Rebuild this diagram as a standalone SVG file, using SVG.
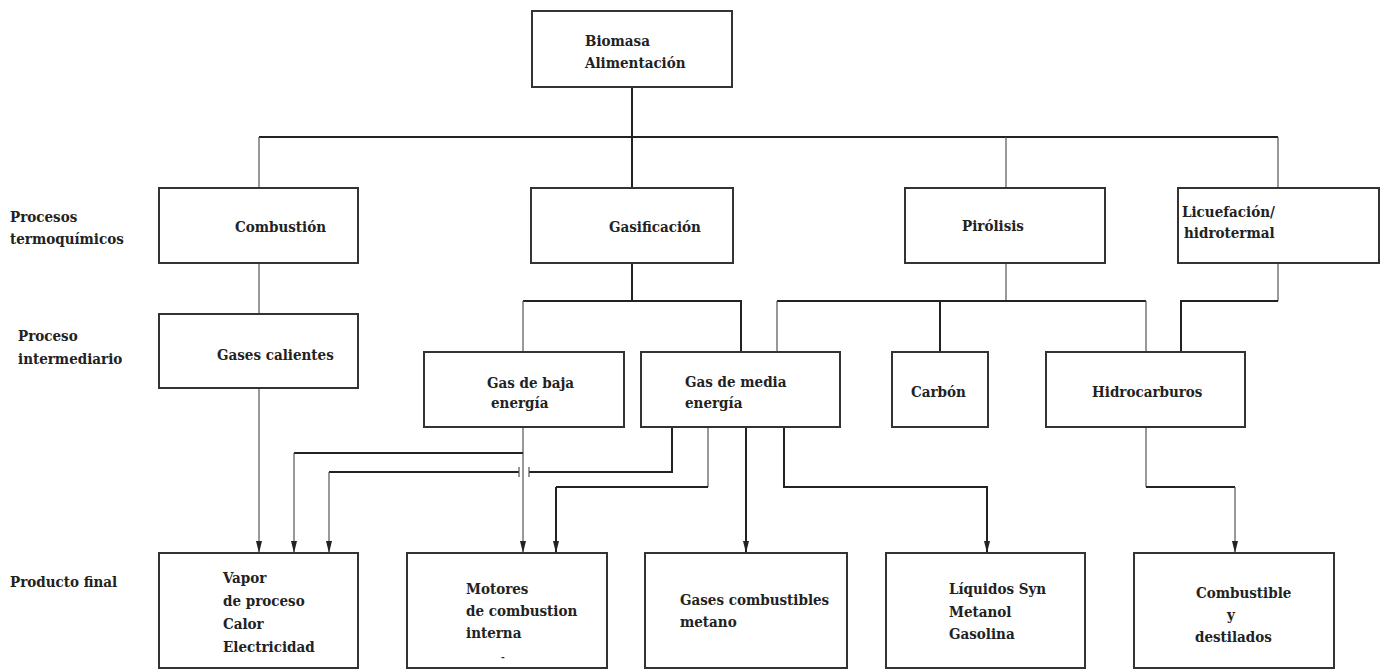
<svg xmlns="http://www.w3.org/2000/svg" width="1386" height="671" viewBox="0 0 1386 671">
<style>
.box{fill:#fff;stroke:#333;stroke-width:2}
.t{font-family:'DejaVu Serif Condensed','DejaVu Serif','Liberation Serif',serif;font-weight:bold;font-size:15px;fill:#222}
.thin{fill:none;stroke:#555;stroke-width:1.2}
.thick{fill:none;stroke:#222;stroke-width:2}
</style>
<defs>
<marker id="ah" markerWidth="12" markerHeight="6" refX="12" refY="3" orient="auto" markerUnits="userSpaceOnUse" viewBox="0 0 12 6">
<path d="M0,0 L12,3 L0,6 Z" fill="#222"/>
</marker>
</defs>
<rect width="1386" height="671" fill="#fff"/>
<g id="labels">
<text class="t" x="10" y="222">Procesos</text>
<text class="t" x="10" y="244">termoquímicos</text>
<text class="t" x="18" y="341">Proceso</text>
<text class="t" x="18" y="364">intermediario</text>
<text class="t" x="10" y="587">Producto final</text>
</g>
<g id="connectors">
<path class="thick" d="M632,87 V137 M259,137 H1278"/>
<path class="thin" d="M259,137 V188 M1006,137 V188 M1278,137 V188"/>
<path class="thick" d="M632,137 V188"/>
<path class="thin" d="M259,263 V314"/>
<path class="thick" d="M632,263 V301 M523,301 H741 V352"/>
<path class="thin" d="M523,301 V352"/>
<path class="thin" d="M1006,263 V301"/>
<path class="thick" d="M777,301 H1146 M940,301 V352"/>
<path class="thin" d="M777,301 V352 M1146,301 V352"/>
<path class="thin" d="M1278,263 V301"/>
<path class="thick" d="M1278,301 H1181 V352"/>
<path class="thin" d="M259,388 V553" marker-end="url(#ah)"/>
<path class="thin" d="M523,427 V553" marker-end="url(#ah)"/>
<path class="thick" d="M523,453 H294"/>
<path class="thin" d="M294,453 V553" marker-end="url(#ah)"/>
<path class="thick" d="M672,427 V472 H529 M519,472 H329"/>
<path class="thin" d="M329,472 V553" marker-end="url(#ah)"/>
<path class="thin" d="M519,467 V477 M529,467 V477"/>
<path class="thin" d="M708,427 V487"/>
<path class="thick" d="M708,487 H556"/>
<path class="thick" d="M556,487 V553" marker-end="url(#ah)"/>
<path class="thick" d="M746,427 V553" marker-end="url(#ah)"/>
<path class="thick" d="M784,427 V487 H987 V553" marker-end="url(#ah)"/>
<path class="thin" d="M1146,427 V487"/>
<path class="thick" d="M1146,487 H1235"/>
<path class="thin" d="M1235,487 V553" marker-end="url(#ah)"/>
</g>
<g id="biomasa">
<rect class="box" x="532" y="11" width="200" height="76"/>
<text class="t" x="585" y="46">Biomasa</text>
<text class="t" x="585" y="68">Alimentación</text>
</g>
<g id="combustion">
<rect class="box" x="159" y="188" width="199" height="75"/>
<text class="t" x="235" y="232">Combustión</text>
</g>
<g id="gasificacion">
<rect class="box" x="531" y="188" width="202" height="75"/>
<text class="t" x="609" y="232">Gasificación</text>
</g>
<g id="pirolisis">
<rect class="box" x="905" y="188" width="200" height="75"/>
<text class="t" x="962" y="231">Pirólisis</text>
</g>
<g id="licuefaccion">
<rect class="box" x="1178" y="188" width="201" height="75"/>
<text class="t" x="1182" y="217">Licuefación/</text>
<text class="t" x="1184" y="238">hidrotermal</text>
</g>
<g id="gases-calientes">
<rect class="box" x="159" y="314" width="199" height="74"/>
<text class="t" x="217" y="360">Gases calientes</text>
</g>
<g id="gas-baja">
<rect class="box" x="424" y="352" width="200" height="75"/>
<text class="t" x="487" y="388">Gas de baja</text>
<text class="t" x="491" y="408">energía</text>
</g>
<g id="gas-media">
<rect class="box" x="641" y="352" width="199" height="75"/>
<text class="t" x="685" y="387">Gas de media</text>
<text class="t" x="685" y="408">energía</text>
</g>
<g id="carbon">
<rect class="box" x="892" y="352" width="96" height="75"/>
<text class="t" x="911" y="397">Carbón</text>
</g>
<g id="hidrocarburos">
<rect class="box" x="1046" y="352" width="199" height="75"/>
<text class="t" x="1092" y="397">Hidrocarburos</text>
</g>
<g id="vapor">
<rect class="box" x="159" y="553" width="199" height="115"/>
<text class="t" x="223" y="583">Vapor</text>
<text class="t" x="223" y="606">de proceso</text>
<text class="t" x="223" y="629">Calor</text>
<text class="t" x="223" y="652">Electricidad</text>
</g>
<g id="motores">
<rect class="box" x="407" y="553" width="200" height="115"/>
<text class="t" x="466" y="594">Motores</text>
<text class="t" x="466" y="616">de combustion</text>
<text class="t" x="466" y="638">interna</text>
<text class="t" x="501" y="660" style="font-size:10px">-</text>
</g>
<g id="gases-combustibles">
<rect class="box" x="645" y="553" width="202" height="115"/>
<text class="t" x="680" y="605">Gases combustibles</text>
<text class="t" x="680" y="627">metano</text>
</g>
<g id="liquidos">
<rect class="box" x="886" y="553" width="199" height="115"/>
<text class="t" x="949" y="594">Líquidos Syn</text>
<text class="t" x="949" y="617">Metanol</text>
<text class="t" x="949" y="639">Gasolina</text>
</g>
<g id="combustible">
<rect class="box" x="1134" y="553" width="200" height="115"/>
<text class="t" x="1196" y="598">Combustible</text>
<text class="t" x="1227" y="620">y</text>
<text class="t" x="1195" y="642">destilados</text>
</g>
</svg>
